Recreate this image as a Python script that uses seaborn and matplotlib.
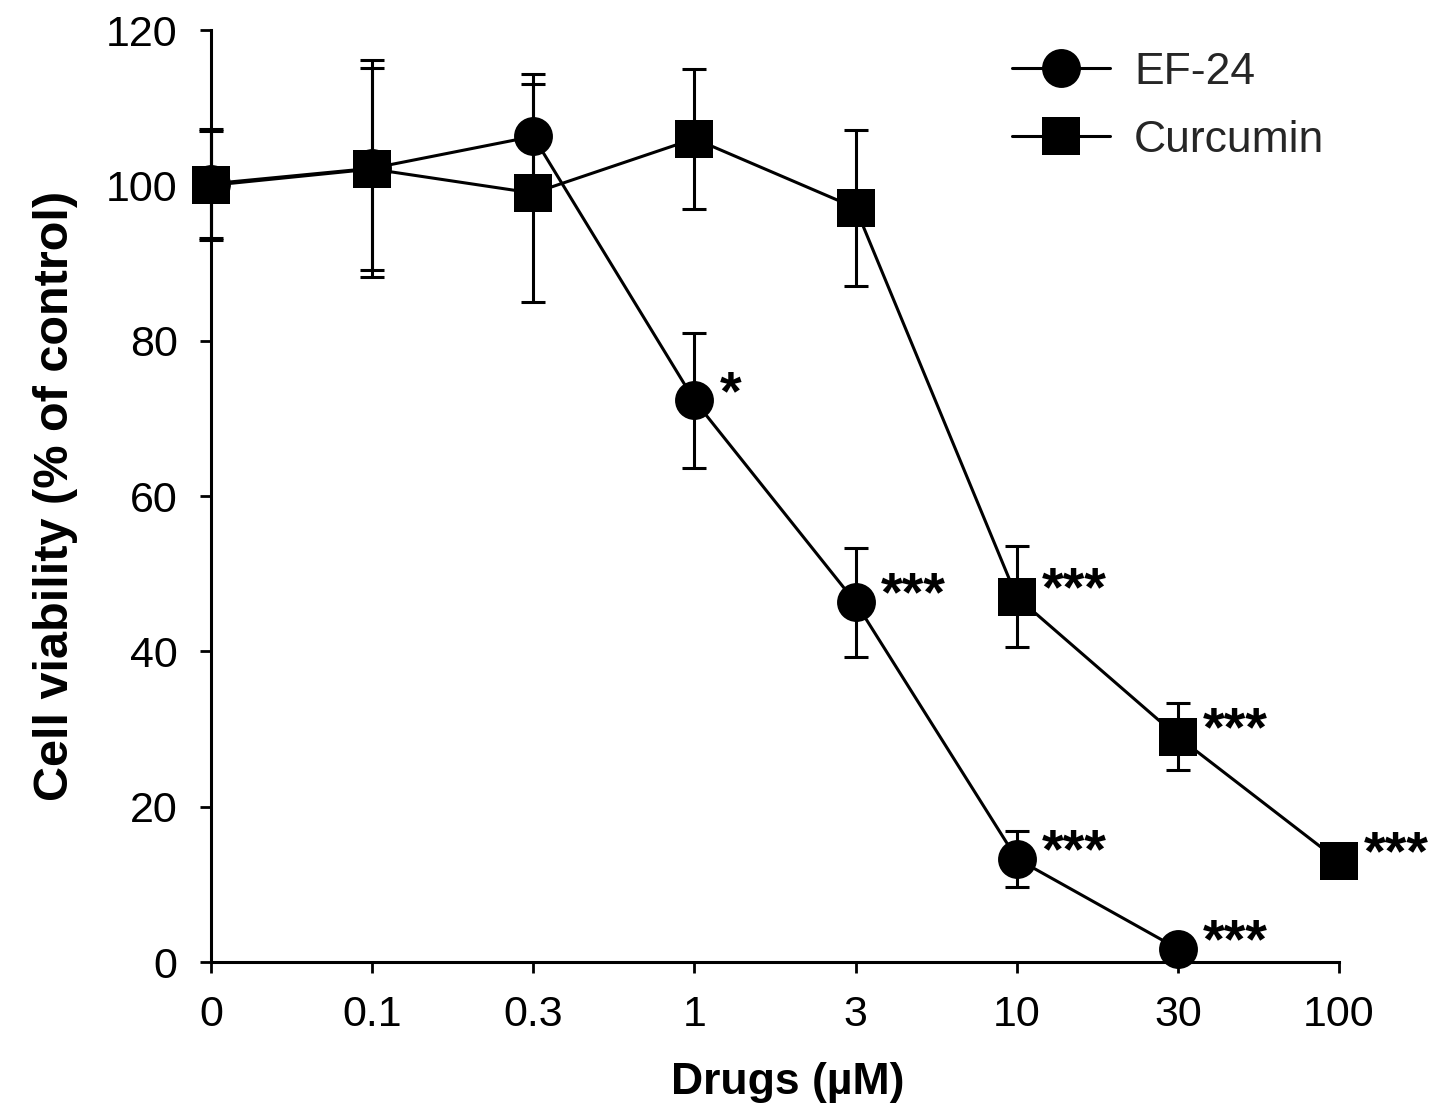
import numpy as np
import pandas as pd
import seaborn as sns
from matplotlib import pyplot as plt

# doses (uM) shown as evenly spaced categories
doses = ['0', '0.1', '0.3', '1', '3', '10', '30', '100']

ef24_mean = [100.2, 102.2, 106.3, 72.3, 46.3, 13.3, 1.7]
ef24_err = [7.0, 14.0, 8.0, 8.7, 7.0, 3.6, 0.0]
ef24_sig = ['', '', '', '*', '***', '***', '***']

curc_mean = [100.0, 102.1, 99.0, 106.0, 97.1, 47.0, 29.0, 13.0]
curc_err = [7.0, 13.0, 14.0, 9.0, 10.0, 6.5, 4.3, 0.0]
curc_sig = ['', '', '', '', '', '***', '***', '***']

sns.set_style('ticks')
plt.rcParams['font.family'] = ['Liberation Sans', 'DejaVu Sans']

df = pd.concat([
    pd.DataFrame({'pos': np.arange(len(ef24_mean)), 'viability': ef24_mean, 'err': ef24_err,
                  'sig': ef24_sig, 'drug': 'EF-24'}),
    pd.DataFrame({'pos': np.arange(len(curc_mean)), 'viability': curc_mean, 'err': curc_err,
                  'sig': curc_sig, 'drug': 'Curcumin'}),
], ignore_index=True)

fig = plt.figure(figsize=(14.41, 11.19), dpi=100)
ax = fig.add_axes([211/1441, 1-962/1119, (1339-211)/1441, (962-30)/1119])

# error bars first so the markers sit on top
for drug, d in df.groupby('drug', sort=False):
    ax.errorbar(d['pos'], d['viability'], yerr=d['err'], fmt='none', ecolor='black',
                elinewidth=2.2, capsize=8.5, capthick=2.2, zorder=2, clip_on=False)

sns.lineplot(data=df, x='pos', y='viability', style='drug', markers={'EF-24': 'o', 'Curcumin': 's'},
             dashes=False, color='black', linewidth=2.2, markersize=28, markeredgewidth=0,
             ax=ax, zorder=3, clip_on=False)

# significance stars
for _, r in df.iterrows():
    if r['sig']:
        ax.annotate(r['sig'], (r['pos'], r['viability']), xytext=(18, -6), textcoords='offset points',
                    fontsize=40, fontweight='bold', ha='left', va='baseline', color='black')

ax.set_xlim(0, 7)
ax.set_ylim(0, 120)
ax.set_yticks(range(0, 121, 20))
ax.set_xticks(range(len(doses)))
ax.set_xticklabels(doses)
for lab in ax.get_xticklabels() + ax.get_yticklabels():
    lab.set_fontsize(31)
    lab.set_color('black')
ax.tick_params(direction='out', length=8, width=2, color='black', pad=16)
for s in ['left', 'bottom']:
    ax.spines[s].set_linewidth(2.2)
    ax.spines[s].set_color('black')
sns.despine(ax=ax)

ax.set_xlabel('Drugs (\u00b5M)', fontsize=32, fontweight='bold', color='black')
ax.xaxis.set_label_coords((788-211)/1128, -0.107)
ax.set_ylabel('Cell viability (% of control)', fontsize=35, fontweight='bold', labelpad=20, color='black')

handles, labels = ax.get_legend_handles_labels()
ax.legend(handles, labels, loc='upper left', bbox_to_anchor=(1012/1441, 1-52/1119),
          bbox_transform=fig.transFigure, frameon=False, fontsize=32, handlelength=2.2,
          handletextpad=0.55, labelspacing=0.6, borderaxespad=0, borderpad=0)

fig.savefig('out.png', dpi=100)
